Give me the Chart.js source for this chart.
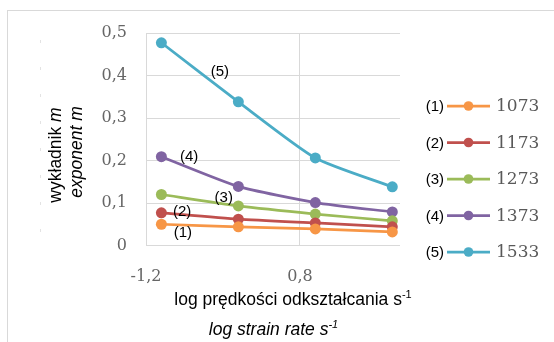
<!DOCTYPE html>
<html>
<head>
<meta charset="utf-8">
<script src="https://cdn.jsdelivr.net/npm/chart.js@4.4.0/dist/chart.umd.min.js"></script>
<style>
  html, body { margin: 0; padding: 0; background: #fff; }
  canvas { display: block; }
</style>
</head>
<body>
<canvas id="chart" width="554" height="342"></canvas>
<script>
// log of strain rate (s^-1) at which m was determined
const strainRateLog = [-1, 0, 1, 2];

// test temperatures, K
const temperatures = ['1073', '1173', '1273', '1373', '1533'];
const seriesTags = ['(1)', '(2)', '(3)', '(4)', '(5)'];

// strain-rate sensitivity exponent m for each temperature
const m1073 = [0.050, 0.044, 0.039, 0.032];
const m1173 = [0.077, 0.062, 0.053, 0.044];
const m1273 = [0.120, 0.093, 0.074, 0.058];
const m1373 = [0.209, 0.139, 0.101, 0.079];
const m1533 = [0.477, 0.338, 0.206, 0.138];

// axis ticks
const xTickValues = [-1.2, 0.8];
const xTickLabels = ['-1,2', '0,8'];
const yTickValues = [0, 0.1, 0.2, 0.3, 0.4, 0.5];
const yTickLabels = ['0', '0,1', '0,2', '0,3', '0,4', '0,5'];

// where each "(n)" tag sits, in axis units
const tagX = [-0.72, -0.73, -0.19, -0.64, -0.24];
const tagY = [0.029, 0.079, 0.112, 0.208, 0.408];

const seriesValues = [m1073, m1173, m1273, m1373, m1533];
const colors = ['#F79646', '#C0504D', '#9BBB59', '#8064A2', '#4BACC6'];

const SANS = '"Liberation Sans", Arial, sans-serif';
const SERIF = '"DejaVu Serif", serif';

// draw a sequence of text runs (each with its own font) starting at x
function drawRuns(ctx, runs, x, y) {
  let cx = x;
  for (const r of runs) {
    ctx.font = r.font;
    ctx.fillText(r.text, cx, y + (r.dy || 0));
    cx += ctx.measureText(r.text).width;
  }
}
function runsWidth(ctx, runs) {
  let w = 0;
  for (const r of runs) { ctx.font = r.font; w += ctx.measureText(r.text).width; }
  return w;
}

const decorations = {
  id: 'decorations',
  beforeDraw(chart) {
    const ctx = chart.ctx;
    ctx.save();
    // outer frame
    ctx.strokeStyle = '#D9D9D9';
    ctx.lineWidth = 1;
    ctx.strokeRect(7.5, 10.5, 600, 400);
    // faint dashed guide beside the axis title
    ctx.strokeStyle = '#E3E3E3';
    ctx.setLineDash([3, 24]);
    ctx.beginPath();
    ctx.moveTo(40.5, 40);
    ctx.lineTo(40.5, 250);
    ctx.stroke();
    ctx.restore();
  },
  afterDraw(chart) {
    const ctx = chart.ctx;
    const xs = chart.scales.x, ys = chart.scales.y;
    ctx.save();
    ctx.fillStyle = '#000';
    ctx.textBaseline = 'alphabetic';

    // x-axis title, two lines
    const line1 = [
      { text: 'log prędkości odkształcania s', font: '17.5px ' + SANS },
      { text: '-1', font: '11px ' + SANS, dy: -7 }
    ];
    const line2 = [
      { text: 'log strain rate s', font: 'italic 17.5px ' + SANS },
      { text: '-1', font: 'italic 11px ' + SANS, dy: -7 }
    ];
    ctx.textAlign = 'left';
    drawRuns(ctx, line1, 293 - runsWidth(ctx, line1) / 2, 305);
    drawRuns(ctx, line2, 273.5 - runsWidth(ctx, line2) / 2, 335);

    // y-axis title, rotated
    const yt1 = [
      { text: 'wykładnik ', font: '17.5px ' + SANS },
      { text: 'm', font: 'italic 17.5px ' + SANS }
    ];
    const yt2 = [{ text: 'exponent m', font: 'italic 17.5px ' + SANS }];
    ctx.save();
    ctx.translate(56, 155);
    ctx.rotate(-Math.PI / 2);
    ctx.textBaseline = 'middle';
    drawRuns(ctx, yt1, -runsWidth(ctx, yt1) / 2, 0);
    ctx.restore();
    ctx.save();
    ctx.translate(77, 152);
    ctx.rotate(-Math.PI / 2);
    ctx.textBaseline = 'middle';
    drawRuns(ctx, yt2, -runsWidth(ctx, yt2) / 2, 0);
    ctx.restore();

    // series tags next to the curves
    ctx.font = '15px ' + SANS;
    ctx.textAlign = 'center';
    ctx.textBaseline = 'middle';
    seriesTags.forEach((t, i) => {
      ctx.fillText(t, xs.getPixelForValue(tagX[i]), ys.getPixelForValue(tagY[i]));
    });

    // legend
    chart.data.datasets.forEach((ds, i) => {
      const y = 106 + i * 36.5;
      ctx.font = '15px ' + SANS;
      ctx.fillStyle = '#000';
      ctx.textAlign = 'right';
      ctx.fillText(seriesTags[i], 444, y + 1);
      ctx.strokeStyle = ds.borderColor;
      ctx.lineWidth = 2.75;
      ctx.beginPath();
      ctx.moveTo(447, y);
      ctx.lineTo(490, y);
      ctx.stroke();
      ctx.fillStyle = ds.backgroundColor;
      ctx.beginPath();
      ctx.arc(468.5, y, 4.8, 0, Math.PI * 2);
      ctx.fill();
      ctx.fillStyle = '#595959';
      ctx.textAlign = 'left';
      ctx.font = '17px ' + SERIF;
      ctx.fillText(ds.label, 496, y + 1);
    });
    ctx.restore();
  }
};

const chart = new Chart(document.getElementById('chart'), {
  type: 'scatter',
  data: {
    datasets: seriesValues.map((vals, i) => ({
      label: temperatures[i],
      data: vals.map((v, j) => ({ x: strainRateLog[j], y: v })),
      showLine: true,
      borderColor: colors[i],
      backgroundColor: colors[i],
      borderWidth: 2.75,
      pointRadius: 5.5,
      pointBorderWidth: 0,
      pointHoverRadius: 5.5,
      tension: 0.2
    }))
  },
  options: {
    responsive: false,
    animation: false,
    devicePixelRatio: 1,
    layout: { padding: { left: 0, top: 33, right: 154, bottom: 46.5 } },
    plugins: { legend: { display: false }, tooltip: { enabled: false } },
    scales: {
      x: {
        type: 'linear',
        min: -1.2,
        max: 2.1,
        afterBuildTicks: s => { s.ticks = xTickValues.map(v => ({ value: v })); },
        afterFit: s => { s.height = 50; },
        grid: { color: '#D9D9D9', drawTicks: false },
        border: { display: false },
        ticks: {
          padding: 22,
          color: '#666',
          maxRotation: 0,
          font: { family: SERIF, size: 16 },
          callback: (v, i) => xTickLabels[i]
        }
      },
      y: {
        type: 'linear',
        min: 0,
        max: 0.5,
        afterBuildTicks: s => { s.ticks = yTickValues.map(v => ({ value: v })); },
        afterFit: s => { s.width = 146; },
        grid: { color: '#D9D9D9', drawTicks: false },
        border: { color: '#D9D9D9' },
        ticks: {
          padding: 19,
          color: '#666',
          font: { family: SERIF, size: 16 },
          callback: (v, i) => yTickLabels[i]
        }
      }
    }
  },
  plugins: [decorations]
});
</script>
</body>
</html>
